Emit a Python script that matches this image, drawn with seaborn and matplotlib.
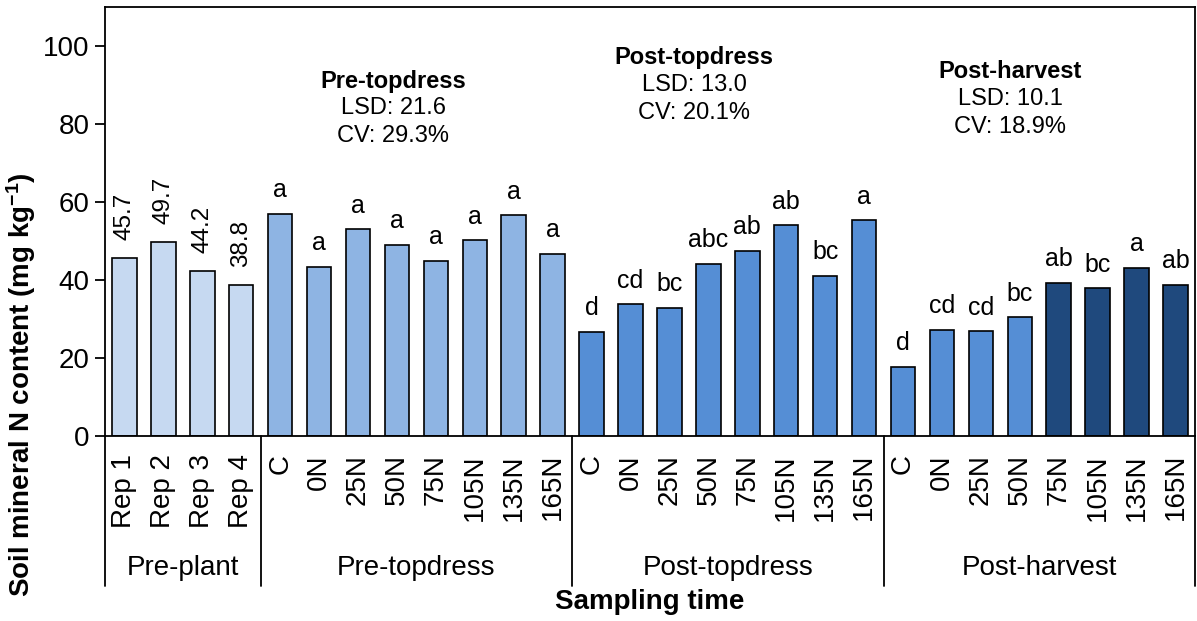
import numpy as np
import pandas as pd
import seaborn as sns
import matplotlib.pyplot as plt

# SOIL MINERAL N BY SAMPLING TIME
sns.set_style("white")
plt.rcParams['font.family'] = ['Liberation Sans', 'DejaVu Sans']
plt.rcParams['mathtext.default'] = 'regular'
plt.rcParams['text.color'] = 'black'
plt.rcParams['xtick.color'] = 'black'
plt.rcParams['ytick.color'] = 'black'
plt.rcParams['axes.labelcolor'] = 'black'

group_names = ['Pre-plant', 'Pre-topdress', 'Post-topdress', 'Post-harvest']
rep_labels = ['Rep 1', 'Rep 2', 'Rep 3', 'Rep 4']
rate_labels = ['C', '0N', '25N', '50N', '75N', '105N', '135N', '165N']

preplant_n = [45.7, 49.7, 42.4, 38.8]
preplant_text = ['45.7', '49.7', '44.2', '38.8']
pretop_n = [56.9, 43.4, 53.0, 49.1, 44.9, 50.2, 56.6, 46.7]
pretop_letters = ['a', 'a', 'a', 'a', 'a', 'a', 'a', 'a']
posttop_n = [26.7, 33.8, 32.9, 44.1, 47.5, 54.0, 41.1, 55.3]
posttop_letters = ['d', 'cd', 'bc', 'abc', 'ab', 'ab', 'bc', 'a']
postharv_n = [17.8, 27.2, 26.8, 30.4, 39.3, 37.9, 43.2, 38.7]
postharv_letters = ['d', 'cd', 'cd', 'bc', 'ab', 'bc', 'a', 'ab']

stat_groups = ['Pre-topdress', 'Post-topdress', 'Post-harvest']
lsd = [21.6, 13.0, 10.1]
cv = [29.3, 20.1, 18.9]

c_light, c_pre, c_mid, c_dark = '#C6D9F1', '#8EB4E3', '#558ED5', '#1F497D'
bar_colors = [c_light] * 4 + [c_pre] * 8 + [c_mid] * 8 + [c_mid] * 4 + [c_dark] * 4

# build the table
values = preplant_n + pretop_n + posttop_n + postharv_n
ticks = rep_labels + rate_labels * 3
labels_above = preplant_text + pretop_letters + posttop_letters + postharv_letters
groups = [group_names[0]] * 4 + [g for g in group_names[1:] for _ in range(8)]
ids = [f"{g}|{t}" for g, t in zip(groups, ticks)]
data = pd.DataFrame({'id': ids, 'tick': ticks, 'N': values, 'group': groups})

fig = plt.figure(figsize=(11.97, 6.21), dpi=100)
ax = fig.add_axes([0.0877, 0.2979, 0.9106, 0.6908])

sns.barplot(data=data, x='id', y='N', hue='id', palette=bar_colors, legend=False,
            width=0.63, edgecolor='black', linewidth=1.2, saturation=1, ax=ax)

n = len(data)
ax.set_xlim(-0.5, n - 0.5)
ax.set_ylim(0, 110)
ax.set_yticks(np.arange(0, 101, 20))
ax.tick_params(axis='y', labelsize=20, direction='out', length=7, width=1.3, left=True, pad=4)
ax.set_xticks(range(n))
ax.set_xticklabels(data.tick, rotation=90, fontsize=20)
ax.tick_params(axis='x', length=0, pad=13)
for s in ax.spines.values():
    s.set_linewidth(1.3)
    s.set_color('black')
ax.set_xlabel('')
ax.set_ylabel('')

# labels above bars
for i, (v, lab) in enumerate(zip(data.N, labels_above)):
    if i < 4:
        ax.annotate(lab, (i, v), xytext=(0, 13), textcoords='offset points',
                    rotation=90, ha='center', va='bottom', fontsize=17.5)
    else:
        ax.annotate(lab, (i, v), xytext=(0, 12), textcoords='offset points',
                    ha='center', va='baseline', fontsize=18)

# group separators and names under the tick labels
trans = ax.get_xaxis_transform()
sizes = data.groupby('group', sort=False).size()
edges = np.concatenate([[0], np.cumsum(sizes.values)]) - 0.5
for e in edges:
    ax.plot([e, e], [0, -0.35], transform=trans, color='black', lw=1.3, clip_on=False)
for g, a, b in zip(sizes.index, edges[:-1], edges[1:]):
    ax.text((a + b) / 2, -0.308, g, transform=trans, ha='center', va='center', fontsize=20)

# LSD and CV boxes
stat_x = [6.9, 14.63, 22.75]
stat_y = [91.0, 97.0, 93.4]
for g, l, c, x, y in zip(stat_groups, lsd, cv, stat_x, stat_y):
    ax.text(x, y, g, ha='center', va='center', fontsize=17, fontweight='bold')
    ax.text(x, y - 7.0, f'LSD: {l:.1f}', ha='center', va='center', fontsize=17)
    ax.text(x, y - 14.2, f'CV: {c:.1f}%', ha='center', va='center', fontsize=17)

fig.text(0.018, 0.38, 'Soil mineral N content (mg kg$^{-1}$)', rotation=90,
         ha='center', va='center', fontsize=20, fontweight='bold')
fig.text(0.543, 0.03, 'Sampling time', ha='center', va='center', fontsize=20, fontweight='bold')

plt.savefig('out.png', dpi=100)
